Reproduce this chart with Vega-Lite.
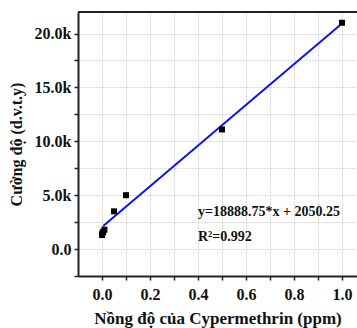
{
  "$schema": "https://vega.github.io/schema/vega-lite/v6.json",
  "autosize": {"type": "none"},
  "padding": {"left": 78, "top": 12, "right": 0, "bottom": 52},
  "width": 279,
  "height": 264,
  "background": "white",
  "view": {"stroke": null},
  "config": {
    "font": "Liberation Serif",
    "axis": {
      "labelFont": "Liberation Serif",
      "labelFontWeight": "bold",
      "labelFontSize": 16,
      "labelColor": "#111",
      "titleFont": "Liberation Serif",
      "titleFontWeight": "bold",
      "titleFontSize": 16,
      "titleColor": "#111",
      "domainColor": "#222",
      "domainWidth": 2,
      "tickColor": "#222",
      "tickWidth": 1.5,
      "tickSize": 4,
      "gridColor": "#b4b4b4",
      "gridDash": [1, 2],
      "gridWidth": 1
    }
  },
  "datasets": {
    "pts": [
      {"x": 0.0005, "y": 1300},
      {"x": 0.001, "y": 1450},
      {"x": 0.005, "y": 1600},
      {"x": 0.01, "y": 1800},
      {"x": 0.05, "y": 3500},
      {"x": 0.1, "y": 5000},
      {"x": 0.5, "y": 11100},
      {"x": 1.0, "y": 21000}
    ],
    "fit": [
      {"x": 0.005, "y": 2145},
      {"x": 1.0, "y": 20939}
    ],
    "notes": [
      {"x": 0.4, "y": 3450, "t": "y=18888.75*x + 2050.25"},
      {"x": 0.4, "y": 1100, "t": "R²=0.992"}
    ],
    "frame": [
      {"y": 22000}
    ]
  },
  "encoding": {
    "x": {
      "field": "x", "type": "quantitative",
      "scale": {"domain": [-0.1, 1.0625], "nice": false, "zero": false},
      "axis": {
        "orient": "bottom",
        "title": "Nồng độ của Cypermethrin (ppm)",
        "titleFontSize": 17,
        "values": [0, 0.1, 0.2, 0.3, 0.4, 0.5, 0.6, 0.7, 0.8, 0.9, 1.0],
        "labelExpr": "(round(datum.value * 10) % 2 == 0) ? format(datum.value, '.1f') : ''",
        "labelPadding": 6,
        "titlePadding": 8,
        "grid": true
      }
    },
    "y": {
      "field": "y", "type": "quantitative",
      "scale": {"domain": [-2500, 22000], "nice": false, "zero": false},
      "axis": {
        "title": "Cường độ (d.v.t.y)",
        "values": [-2500, 0, 2500, 5000, 7500, 10000, 12500, 15000, 17500, 20000],
        "labelExpr": "datum.value == 0 ? '0.0' : ((datum.value > 0 && round(datum.value / 5000) * 5000 == datum.value) ? format(datum.value / 1000, '.1f') + 'k' : '')",
        "labelPadding": 3,
        "titlePadding": 10,
        "grid": true
      }
    }
  },
  "layer": [
    {
      "data": {"name": "frame"},
      "mark": {"type": "rule", "color": "#222", "strokeWidth": 2},
      "encoding": {
        "x": null
      }
    },
    {
      "data": {"name": "fit"},
      "mark": {"type": "line", "color": "#0a14f0", "strokeWidth": 2}
    },
    {
      "data": {"name": "pts"},
      "mark": {"type": "square", "color": "black", "size": 36, "opacity": 1, "filled": true}
    },
    {
      "data": {"name": "notes"},
      "mark": {"type": "text", "align": "left", "baseline": "middle", "font": "Liberation Serif", "fontWeight": "bold", "fontSize": 14, "color": "#111"},
      "encoding": {
        "text": {"field": "t"}
      }
    }
  ]
}
